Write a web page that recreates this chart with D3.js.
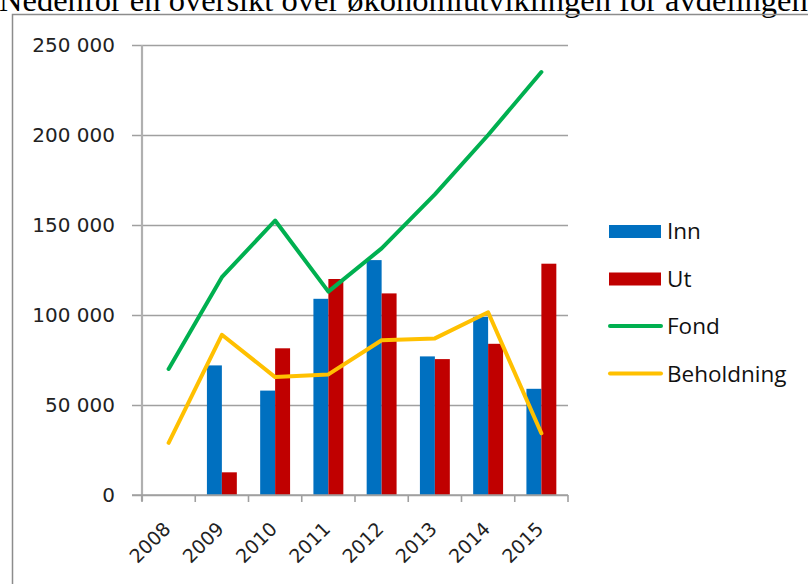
<!DOCTYPE html>
<html>
<head>
<meta charset="utf-8">
<script src="https://cdn.jsdelivr.net/npm/d3@7"></script>
<style>
  html, body { margin: 0; padding: 0; background: #fff; overflow: hidden; }
  svg { display: block; }
</style>
</head>
<body>
<script>

// data
const years = ['2008', '2009', '2010', '2011', '2012', '2013', '2014', '2015']
const inn = [null, 72000, 58000, 109000, 130500, 77000, 99000, 59000]
const ut = [null, 12600, 81500, 120000, 112000, 75500, 84000, 128500]
const fond = [70000, 121000, 152500, 113000, 137000, 167000, 200000, 235000]
const beholdning = [29000, 89000, 65500, 67000, 86000, 87000, 101500, 34300]
const yTicks = [0, 50000, 100000, 150000, 200000, 250000]

const titleText = 'Nedenfor en oversikt over økonomiutviklingen for avdelingen'

const legendItems = [
    { name: 'Inn', type: 'bar', color: '#0070C0' },
    { name: 'Ut', type: 'bar', color: '#C00000' },
    { name: 'Fond', type: 'line', color: '#00B050' },
    { name: 'Beholdning', type: 'line', color: '#FFC000' },
]

const W = 808, H = 584
const svg = d3.select('body').append('svg')
    .attr('width', W)
    .attr('height', H)

// title line (cut by the top edge, like the source)
svg.append('text')
    .attr('x', -1)
    .attr('y', 11)
    .attr('font-family', '"Liberation Serif", "Times New Roman", serif')
    .attr('font-size', 32.5)
    .attr('fill', '#000')
    .text(titleText)

// chart frame
svg.append('rect')
    .attr('x', 12.5)
    .attr('y', 14.5)
    .attr('width', W)
    .attr('height', H)
    .attr('fill', 'none')
    .attr('stroke', '#8c8c8c')
    .attr('stroke-width', 1.5)

const plot = { left: 142, right: 568, top: 45, bottom: 495 }

const x = d3.scaleBand()
    .domain(years)
    .range([plot.left, plot.right])

const y = d3.scaleLinear()
    .domain([0, 250000])
    .range([plot.bottom, plot.top])

const labelFont = '"DejaVu Sans", Verdana, sans-serif'

// gridlines + y axis
const yAxis = d3.axisLeft(y)
    .tickValues(yTicks)
    .tickSize(-(plot.right - plot.left))
    .tickPadding(27)
    .tickFormat(d => d3.format(',')(d).replace(/,/g, ' '))

const gy = svg.append('g')
    .attr('transform', `translate(${plot.left},0)`)
    .call(yAxis)

gy.select('.domain').remove()
gy.selectAll('.tick line')
    .attr('x1', -10)
    .attr('stroke', '#a0a0a0')
    .attr('stroke-width', 1.6)
gy.selectAll('.tick text')
    .attr('font-family', labelFont)
    .attr('font-size', 20)
    .attr('fill', '#222')

// vertical axis line
svg.append('line')
    .attr('x1', plot.left).attr('x2', plot.left)
    .attr('y1', plot.top).attr('y2', plot.bottom + 6)
    .attr('stroke', '#b0b0b0')
    .attr('stroke-width', 2.2)

// bars
const sub = d3.scaleBand()
    .domain(['inn', 'ut'])
    .range([0, x.bandwidth()])
    .paddingInner(0)
    .paddingOuter(0.78)

const barData = []
years.forEach((yr, i) => {
    if (inn[i] != null) barData.push({ yr, key: 'inn', v: inn[i], color: legendItems[0].color })
    if (ut[i] != null) barData.push({ yr, key: 'ut', v: ut[i], color: legendItems[1].color })
})

svg.append('g')
    .selectAll('rect')
    .data(barData)
    .join('rect')
    .attr('x', d => x(d.yr) + sub(d.key))
    .attr('width', sub.bandwidth())
    .attr('y', d => y(d.v))
    .attr('height', d => y(0) - y(d.v))
    .attr('fill', d => d.color)

// x axis
const xAxis = d3.axisBottom(x)
    .tickSize(0)
    .tickFormat(d => d)

const gx = svg.append('g')
    .attr('transform', `translate(0,${plot.bottom})`)
    .call(xAxis)

gx.select('.domain').remove()
gx.selectAll('.tick text')
    .attr('font-family', labelFont)
    .attr('font-size', 19)
    .attr('fill', '#222')
    .attr('text-anchor', 'end')
    .attr('dy', 0)
    .attr('transform', 'translate(1,33) rotate(-45)')

svg.append('line')
    .attr('x1', plot.left - 10).attr('x2', plot.right)
    .attr('y1', plot.bottom).attr('y2', plot.bottom)
    .attr('stroke', '#a0a0a0')
    .attr('stroke-width', 1.6)

svg.append('g')
    .selectAll('line')
    .data(years.concat(['end']))
    .join('line')
    .attr('x1', (d, i) => plot.left + i * x.bandwidth())
    .attr('x2', (d, i) => plot.left + i * x.bandwidth())
    .attr('y1', plot.bottom)
    .attr('y2', plot.bottom + 7)
    .attr('stroke', '#a0a0a0')
    .attr('stroke-width', 1.6)

// lines
const line = d3.line()
    .x((d, i) => x(years[i]) + x.bandwidth() / 2)
    .y(d => y(d))

svg.append('path')
    .datum(fond)
    .attr('d', line)
    .attr('fill', 'none')
    .attr('stroke', legendItems[2].color)
    .attr('stroke-width', 4)
    .attr('stroke-linejoin', 'round')
    .attr('stroke-linecap', 'round')

svg.append('path')
    .datum(beholdning)
    .attr('d', line)
    .attr('fill', 'none')
    .attr('stroke', legendItems[3].color)
    .attr('stroke-width', 4)
    .attr('stroke-linejoin', 'round')
    .attr('stroke-linecap', 'round')

// legend
const legend = svg.append('g')
    .attr('transform', 'translate(609,231)')

const li = legend.selectAll('g')
    .data(legendItems)
    .join('g')
    .attr('transform', (d, i) => `translate(0,${i * 47.5})`)

li.filter(d => d.type === 'bar')
    .append('rect')
    .attr('x', 0).attr('y', -6)
    .attr('width', 52).attr('height', 13)
    .attr('fill', d => d.color)

li.filter(d => d.type === 'line')
    .append('line')
    .attr('x1', 1).attr('x2', 52)
    .attr('y1', 0).attr('y2', 0)
    .attr('stroke', d => d.color)
    .attr('stroke-width', 4)
    .attr('stroke-linecap', 'round')

li.append('text')
    .attr('x', 58)
    .attr('y', 0)
    .attr('dy', '0.36em')
    .attr('font-family', '"Open Sans", Lato, sans-serif')
    .attr('font-size', 22.5)
    .attr('fill', '#111')
    .text(d => d.name)

</script>
</body>
</html>
